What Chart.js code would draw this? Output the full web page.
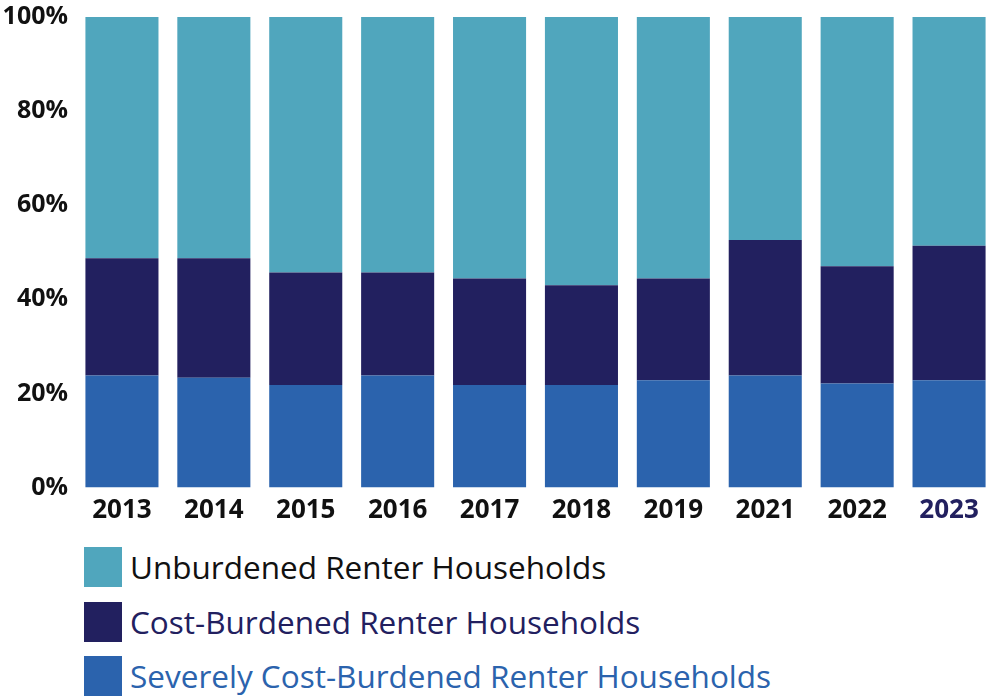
<!DOCTYPE html>
<html>
<head>
<meta charset="utf-8">
<script src="https://cdn.jsdelivr.net/npm/chart.js@4"></script>
<style>
  html, body { margin: 0; padding: 0; background: #fff; overflow: hidden; }
  body { width: 987px; height: 696px; position: relative; font-family: "Open Sans", sans-serif; }
  #wrap { position: absolute; left: 0; top: -6px; width: 995px; height: 536px; }
  .legend { position: absolute; left: 84px; top: 547px; }
  .item { display: flex; align-items: center; height: 40px; margin-bottom: 14.5px; }
  .sw { width: 38px; height: 40px; margin-right: 8px; flex: none; }
  .item span { font-size: 31.5px; line-height: 40px; white-space: nowrap; }
</style>
</head>
<body>
<div id="wrap"><canvas id="canvas"></canvas></div>
<div class="legend" id="legend"></div>
<script>
// colours
let teal = "#50a6bd";
let navy = "#22205f";
let blue = "#2b63ad";

var years = ["2013", "2014", "2015", "2016", "2017", "2018", "2019", "2021", "2022", "2023"];
var severe = [23.8, 23.3, 21.8, 23.8, 21.8, 21.8, 22.8, 23.8, 22.1, 22.8];
var costBurdened = [24.9, 25.4, 23.9, 21.9, 22.6, 21.2, 21.6, 28.8, 24.9, 28.6];
var unburdened = [51.3, 51.3, 54.3, 54.3, 55.6, 57.0, 55.6, 47.4, 53.0, 48.6];
var yTicks = [0, 20, 40, 60, 80, 100];

var seriesNames = [
  "Unburdened Renter Households",
  "Cost-Burdened Renter Households",
  "Severely Cost-Burdened Renter Households",
];
var seriesColors = [teal, navy, blue];
var legendText = ["#111111", navy, blue];

const ctx = document.getElementById("canvas").getContext("2d");
const myChart = new Chart(ctx, {
  type: "bar",
  data: {
    labels: years,
    datasets: [
      { label: seriesNames[2], data: severe, backgroundColor: blue },
      { label: seriesNames[1], data: costBurdened, backgroundColor: navy },
      { label: seriesNames[0], data: unburdened, backgroundColor: teal },
    ],
  },
  options: {
    responsive: true,
    maintainAspectRatio: false,
    animation: false,
    layout: { padding: 0 },
    datasets: { bar: { barPercentage: 0.795, categoryPercentage: 1, borderWidth: 0 } },
    plugins: { legend: { display: false }, tooltip: { enabled: false } },
    scales: {
      x: {
        stacked: true,
        grid: { display: false, drawTicks: false },
        border: { display: false },
        afterFit: (axis) => { axis.height = 42.5; },
        ticks: {
          padding: 7,
          color: (c) => (c.index === years.length - 1 ? navy : "#111111"),
          font: { family: "'Open Sans'", size: 26, weight: "bold" },
        },
      },
      y: {
        stacked: true,
        min: 0,
        max: 100,
        grid: { display: false, drawTicks: false },
        border: { display: false },
        afterFit: (axis) => { axis.width = 76; },
        afterBuildTicks: (axis) => { axis.ticks = yTicks.map((v) => ({ value: v })); },
        ticks: {
          padding: 8,
          color: "#111111",
          font: { family: "'Open Sans'", size: 25, weight: "bold" },
          callback: (v) => v + "%",
        },
      },
    },
  },
});

// legend drawn as html below the chart
var lg = document.getElementById("legend");
seriesNames.forEach(function (name, i) {
  var d = document.createElement("div");
  d.className = "item";
  d.innerHTML = '<div class="sw" style="background:' + seriesColors[i] + '"></div>' +
    '<span style="color:' + legendText[i] + '">' + name + "</span>";
  lg.appendChild(d);
});
</script>
</body>
</html>
